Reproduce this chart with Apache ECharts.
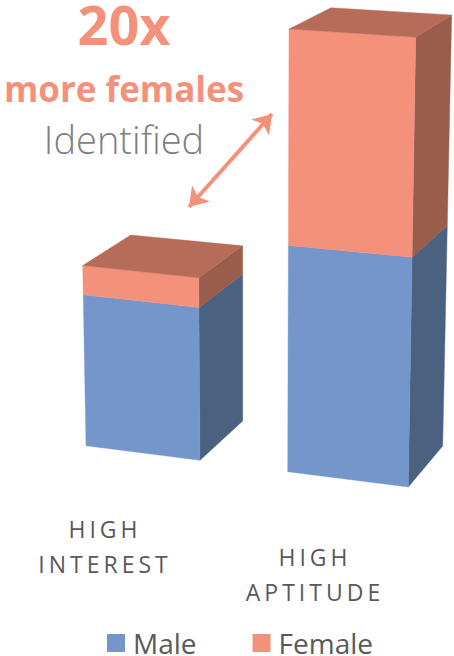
<!DOCTYPE html>
<html>
<head>
<meta charset="utf-8">
<style>
  html, body { margin: 0; padding: 0; background: #fff; }
  #chart { width: 454px; height: 656px; }
  /* tracked-out category captions */
  #chart svg text[style*="23px"] { letter-spacing: 4px; }
</style>
<script src="https://cdn.jsdelivr.net/npm/echarts@6/dist/echarts.min.js"></script>
</head>
<body>
<div id="chart"></div>
<script>
const categories = ['HIGH INTEREST', 'HIGH APTITUDE'];
const maleValues = [34.1, 51.1];
const femaleValues = [6.6, 48.9];

const FONT = '"Open Sans", "Noto Sans", sans-serif';
const MALE = { front: '#7496CB', side: '#4A6180' };
const FEMALE = { front: '#F4917A', side: '#995D4B', top: '#B66C58' };

// Perspective frame of each box: every vertical edge is given as its offset from
// the band centre at the floor and at the top of the value axis.
const frames = [
  {
    fl: [[-19, 445.7], [-27.1, 3]],
    fr: [[95, 460.3], [91.8, 12]],
    br: [[137.7, 421], [137.7, -9.4]],
    bl: [[28, 408], [22.3, -17]]
  },
  {
    fl: [[-27.3, 471.7], [-26, 29]],
    fr: [[93.3, 487], [100.7, 37.3]],
    br: [[127.7, 446], [136.7, 15]],
    bl: [[12, 433], [16, 7.7]]
  }
];
const captionTop = [511, 539.5];

function edgePoint(edge, cx, t) {
  return [
    cx + edge[0][0] + (edge[1][0] - edge[0][0]) * t,
    edge[0][1] + (edge[1][1] - edge[0][1]) * t
  ];
}

function face(points, fill) {
  return {
    type: 'polygon',
    shape: { points },
    style: { fill, stroke: fill, lineWidth: 0.4 }
  };
}

function boxRenderer(palette) {
  return function (params, api) {
    const i = api.value(0);
    const frame = frames[i];
    const floor = api.coord([i, 0]);
    const ceil = api.coord([i, 100]);
    const cx = floor[0];
    const frac = v => (floor[1] - api.coord([i, v])[1]) / (floor[1] - ceil[1]);
    const t0 = frac(api.value(1));
    const t1 = frac(api.value(2));
    const children = [
      face([
        edgePoint(frame.fr, cx, t0), edgePoint(frame.br, cx, t0),
        edgePoint(frame.br, cx, t1), edgePoint(frame.fr, cx, t1)
      ], palette.side),
      face([
        edgePoint(frame.fl, cx, t0), edgePoint(frame.fr, cx, t0),
        edgePoint(frame.fr, cx, t1), edgePoint(frame.fl, cx, t1)
      ], palette.front)
    ];
    if (palette.top) {
      children.push(face([
        edgePoint(frame.fl, cx, t1), edgePoint(frame.fr, cx, t1),
        edgePoint(frame.br, cx, t1), edgePoint(frame.bl, cx, t1)
      ], palette.top));
    }
    return { type: 'group', children };
  };
}

const chart = echarts.init(document.getElementById('chart'), null, { renderer: 'svg' });

chart.setOption({
  animation: false,
  backgroundColor: '#fff',
  grid: { left: 0, width: 420, top: 0, bottom: 0 },
  xAxis: { type: 'category', data: categories, show: false },
  yAxis: { type: 'value', min: 0, max: 100, show: false },
  legend: {
    data: ['Male', 'Female'],
    left: 107,
    top: 628,
    padding: 0,
    icon: 'rect',
    itemWidth: 18,
    itemHeight: 18,
    itemGap: 56,
    textStyle: { fontFamily: FONT, fontSize: 28, lineHeight: 30, color: '#595959', padding: [0, 0, 0, 3] },
    selectedMode: false
  },
  series: [
    {
      name: 'Male',
      type: 'custom',
      color: MALE.front,
      renderItem: boxRenderer(MALE),
      encode: { x: 0, y: [1, 2] },
      data: categories.map((c, i) => [i, 0, maleValues[i]])
    },
    {
      name: 'Female',
      type: 'custom',
      color: FEMALE.front,
      renderItem: boxRenderer(FEMALE),
      encode: { x: 0, y: [1, 2] },
      data: categories.map((c, i) => [i, maleValues[i], maleValues[i] + femaleValues[i]]),
      markLine: {
        silent: true,
        symbol: ['arrow', 'arrow'],
        symbolSize: 18,
        label: { show: false },
        lineStyle: { color: FEMALE.front, width: 4, type: 'solid' },
        data: [[{ x: 189, y: 207 }, { x: 272, y: 114 }]]
      }
    },
    {
      name: 'captions',
      type: 'custom',
      silent: true,
      renderItem(params, api) {
        const i = api.value(0);
        return {
          type: 'text',
          x: api.coord([i, 0])[0],
          y: captionTop[i],
          style: {
            text: categories[i].replace(' ', '\n'),
            font: '23px ' + FONT,
            fill: '#595959',
            textAlign: 'center',
            textVerticalAlign: 'top',
            lineHeight: 35
          }
        };
      },
      data: categories.map((c, i) => [i])
    }
  ],
  graphic: [
    {
      type: 'text', x: 124, y: 3,
      style: { text: '20x', font: 'bold 54px ' + FONT, lineHeight: 41, fill: FEMALE.front, textAlign: 'center' }
    },
    {
      type: 'text', x: 124, y: 71,
      style: { text: 'more females', font: 'bold 35px ' + FONT, fill: FEMALE.front, textAlign: 'center' }
    },
    {
      type: 'text', x: 124, y: 120,
      style: { text: 'Identified', font: '300 38px ' + FONT, fill: '#7F7F7F', textAlign: 'center' }
    }
  ]
});
</script>
</body>
</html>
